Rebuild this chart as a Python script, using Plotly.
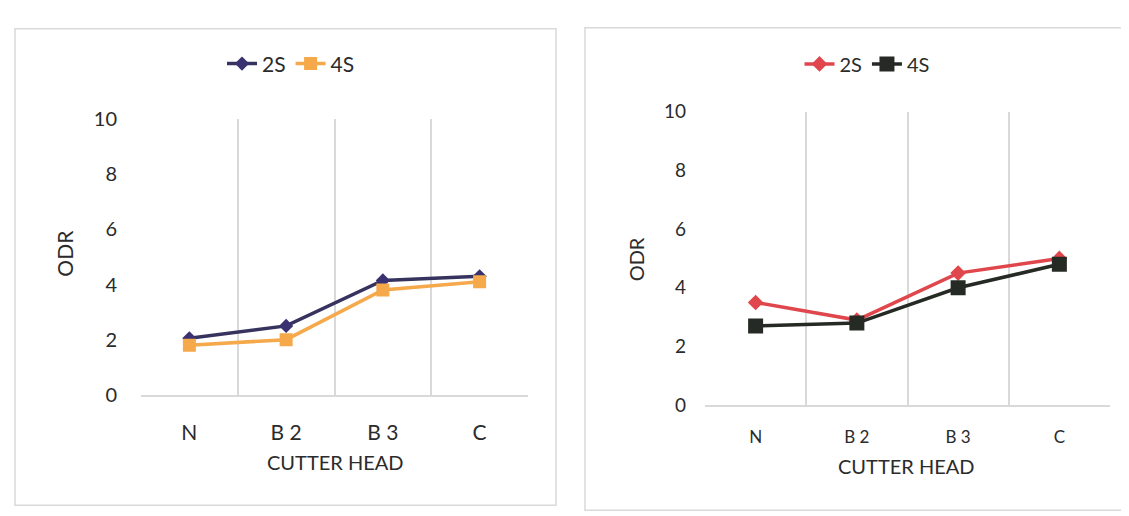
import plotly.graph_objects as go

categories = ["N", "B 2", "B 3", "C"]
series_names = ["2S", "4S"]
left_2s = [2.05, 2.5, 4.15, 4.3]
left_4s = [1.8, 2.0, 3.8, 4.1]
right_2s = [3.5, 2.9, 4.5, 5.0]
right_4s = [2.7, 2.8, 4.0, 4.8]
y_ticks = [0, 2, 4, 6, 8, 10]

W, H = 1129, 516
FONT = "Lato"
TXT = "#2b2b2b"
GRID = "#d9d9d9"

xpos = list(range(len(categories)))

fig = go.Figure()
fig.add_trace(go.Scatter(x=xpos, y=left_2s, name=series_names[0], mode="lines+markers",
                         line=dict(color="#37335f", width=3.5),
                         marker=dict(symbol="diamond", size=11, color="#3a3270"),
                         xaxis="x", yaxis="y", legend="legend"))
fig.add_trace(go.Scatter(x=xpos, y=left_4s, name=series_names[1], mode="lines+markers",
                         line=dict(color="#f5a94a", width=3.5),
                         marker=dict(symbol="square", size=13, color="#f5a94a"),
                         xaxis="x", yaxis="y", legend="legend"))
fig.add_trace(go.Scatter(x=xpos, y=right_2s, name=series_names[0], mode="lines+markers",
                         line=dict(color="#e0474c", width=3.5),
                         marker=dict(symbol="diamond", size=12, color="#e0474c"),
                         xaxis="x2", yaxis="y2", legend="legend2"))
fig.add_trace(go.Scatter(x=xpos, y=right_4s, name=series_names[1], mode="lines+markers",
                         line=dict(color="#262a24", width=3.5),
                         marker=dict(symbol="square", size=15, color="#262a24"),
                         xaxis="x2", yaxis="y2", legend="legend2"))

def xaxis(domain, anchor, size, standoff):
    return dict(domain=domain, anchor=anchor, range=[-0.5, len(categories) - 0.5],
                tickmode="array", tickvals=xpos, ticktext=categories,
                showgrid=False, zeroline=False, showline=True, linecolor=GRID, linewidth=1.5,
                ticks="", ticklabelstandoff=standoff,
                tickfont=dict(family=FONT, size=size, color=TXT),
                minor=dict(tickmode="array", tickvals=[i - 0.5 for i in range(len(categories) + 1)],
                           showgrid=True, gridcolor=GRID, gridwidth=1.5, ticks=""),
                fixedrange=True)

def yaxis(domain, anchor, size, standoff):
    return dict(domain=domain, anchor=anchor, range=[0, 10], tickmode="array", tickvals=y_ticks,
                showgrid=False, zeroline=False, showline=False, ticks="",
                ticklabelstandoff=standoff,
                tickfont=dict(family=FONT, size=size, color=TXT), fixedrange=True)

L_x = [133 / W, 520 / W]
L_y = [1 - 392 / H, 1 - 103 / H]
R_x = [697 / W, 1102 / W]
R_y = [1 - 403 / H, 1 - 95 / H]

fig.update_layout(
    width=W, height=H, margin=dict(l=0, r=0, t=0, b=0),
    paper_bgcolor="white", plot_bgcolor="white",
    font=dict(family=FONT, color=TXT),
    xaxis=xaxis(L_x, "y", 21, 18),
    yaxis=yaxis(L_y, "x", 20, 23),
    xaxis2=xaxis(R_x, "y2", 17, 16),
    yaxis2=yaxis(R_y, "x2", 19, 18),
    legend=dict(orientation="h", x=283 / W, y=1 - 45 / H, xanchor="center", yanchor="middle",
                font=dict(family=FONT, size=21, color=TXT), bgcolor="rgba(0,0,0,0)",
                tracegroupgap=0),
    legend2=dict(orientation="h", x=859 / W, y=1 - 45 / H, xanchor="center", yanchor="middle",
                 font=dict(family=FONT, size=20, color=TXT), bgcolor="rgba(0,0,0,0)",
                 tracegroupgap=0),
    showlegend=True,
)

fig.update_layout(shapes=[
    dict(type="rect", xref="paper", yref="paper", x0=7 / W, x1=548 / W, y0=1 - 508 / H, y1=1 - 8 / H,
         line=dict(color=GRID, width=1.5)),
    dict(type="rect", xref="paper", yref="paper", x0=577 / W, x1=1125 / W, y0=1 - 513 / H, y1=1 - 7 / H,
         line=dict(color=GRID, width=1.5)),
])

fig.update_layout(annotations=[
    dict(text="ODR", xref="paper", yref="paper", x=57 / W, y=1 - 244 / H, textangle=-90,
         xanchor="center", yanchor="middle",
         showarrow=False, font=dict(family=FONT, size=21, color=TXT)),
    dict(text="CUTTER HEAD", xref="paper", yref="paper", x=327 / W, y=1 - 463 / H,
         xanchor="center", yanchor="middle",
         showarrow=False, font=dict(family=FONT, size=20, color=TXT)),
    dict(text="ODR", xref="paper", yref="paper", x=628 / W, y=1 - 250 / H, textangle=-90,
         xanchor="center", yanchor="middle",
         showarrow=False, font=dict(family=FONT, size=20, color=TXT)),
    dict(text="CUTTER HEAD", xref="paper", yref="paper", x=898 / W, y=1 - 467 / H,
         xanchor="center", yanchor="middle",
         showarrow=False, font=dict(family=FONT, size=20, color=TXT)),
])

fig.write_html("out.html")
